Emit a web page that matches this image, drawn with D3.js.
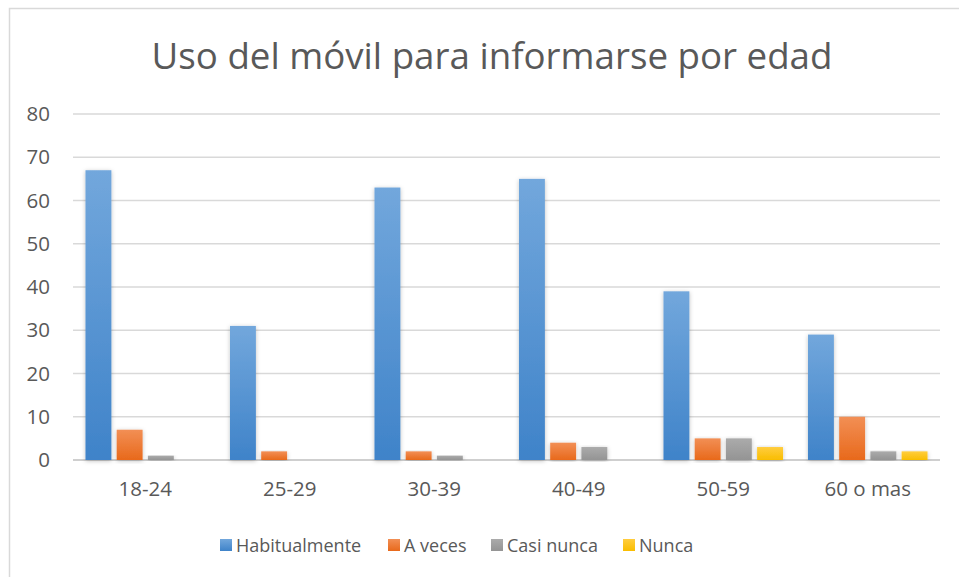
<!DOCTYPE html>
<html>
<head>
<meta charset="utf-8">
<script src="https://cdn.jsdelivr.net/npm/d3@7"></script>
<style>
  body { margin: 0; background: #fff; }
  text { font-family: "Open Sans", "Noto Sans", sans-serif; fill: #595959; }
</style>
</head>
<body>
<div id="chart"></div>
<script>
// categories and series
const ages = ['18-24', '25-29', '30-39', '40-49', '50-59', '60 o mas'];
const seriesNames = ['Habitualmente', 'A veces', 'Casi nunca', 'Nunca'];
const habitualmente = [67, 31, 63, 65, 39, 29];
const aVeces = [7, 2, 2, 4, 5, 10];
const casiNunca = [1, 0, 1, 3, 5, 2];
const nunca = [0, 0, 0, 0, 3, 2];
const yTicks = [0, 10, 20, 30, 40, 50, 60, 70, 80];

const allSeries = [habitualmente, aVeces, casiNunca, nunca];
const colors = [
    ['#72a7dc', '#3f83c9'],
    ['#f28f55', '#e8691b'],
    ['#ababab', '#949494'],
    ['#ffcd3f', '#f9bd00']
];

const W = 959, H = 577;
const margin = {top: 114, right: 19, bottom: 117, left: 73};

const svg = d3.select('#chart').append('svg')
    .attr('width', W)
    .attr('height', H);

// gradients + shadow
const defs = svg.append('defs');
colors.forEach((c, i) => {
    let g = defs.append('linearGradient')
        .attr('id', 'grad' + i)
        .attr('x1', 0).attr('y1', 0).attr('x2', 0).attr('y2', 1);
    g.append('stop').attr('offset', '0%').attr('stop-color', c[0]);
    g.append('stop').attr('offset', '100%').attr('stop-color', c[1]);
});
defs.append('filter').attr('id', 'shadow')
    .attr('x', '-30%').attr('y', '-10%').attr('width', '160%').attr('height', '120%')
    .append('feDropShadow')
    .attr('dx', 0).attr('dy', 1).attr('stdDeviation', 2)
    .attr('flood-color', '#000').attr('flood-opacity', 0.25);

// outer frame (left and top edges only visible)
svg.append('path')
    .attr('d', `M9.5,${H} V8.5 H${W}`)
    .attr('fill', 'none')
    .attr('stroke', '#d9d9d9')
    .attr('stroke-width', 1.5);

const x0 = d3.scaleBand()
    .domain(ages)
    .range([margin.left, W - margin.right])
    .paddingInner(0)
    .paddingOuter(0);

const x1 = d3.scaleBand()
    .domain(d3.range(seriesNames.length))
    .range([0, x0.bandwidth()])
    .paddingInner(0.17)
    .paddingOuter(0.4);

const y = d3.scaleLinear()
    .domain([0, 80])
    .range([H - margin.bottom, margin.top]);

// gridlines
svg.append('g')
    .selectAll('line')
    .data(yTicks)
    .join('line')
    .attr('x1', margin.left)
    .attr('x2', W - margin.right)
    .attr('y1', d => y(d))
    .attr('y2', d => y(d))
    .attr('stroke', d => d === 0 ? '#cfcfcf' : '#d9d9d9')
    .attr('stroke-width', d => d === 0 ? 2 : 1.3);

// y axis labels
let yAxis = d3.axisLeft(y).tickValues(yTicks).tickSize(0).tickPadding(0);
let gy = svg.append('g')
    .attr('transform', `translate(${margin.left - 23},0)`)
    .call(yAxis);
gy.select('.domain').remove();
gy.selectAll('text')
    .style('font-size', '20.5px')
    .attr('fill', '#595959')
    .attr('text-anchor', 'end');

// x axis labels
let xAxis = d3.axisBottom(x0).tickSize(0).tickPadding(0);
let gx = svg.append('g')
    .attr('transform', `translate(0,${y(0) + 21})`)
    .call(xAxis);
gx.select('.domain').remove();
gx.selectAll('text')
    .style('font-size', '20.5px')
    .attr('fill', '#595959');

// bars
const groups = svg.append('g')
    .selectAll('g')
    .data(ages)
    .join('g')
    .attr('transform', d => `translate(${x0(d)},0)`);

groups.selectAll('rect')
    .data((d, i) => allSeries.map((s, k) => ({key: k, value: s[i]})))
    .join('rect')
    .filter(d => d.value > 0)
    .attr('x', d => x1(d.key))
    .attr('y', d => y(d.value))
    .attr('width', x1.bandwidth())
    .attr('height', d => y(0) - y(d.value))
    .attr('fill', d => `url(#grad${d.key})`)
    .attr('filter', 'url(#shadow)');

// title
svg.append('text')
    .attr('x', (W + 9) / 2 + 8)
    .attr('y', 69)
    .attr('text-anchor', 'middle')
    .style('font-size', '36.7px')
    .text('Uso del móvil para informarse por edad');

// legend
const legendX = [220, 388, 491, 623];
const legend = svg.append('g')
    .selectAll('g')
    .data(seriesNames)
    .join('g')
    .attr('transform', (d, i) => `translate(${legendX[i]},545)`);
legend.append('rect')
    .attr('x', 0).attr('y', -6)
    .attr('width', 12).attr('height', 12)
    .attr('fill', (d, i) => `url(#grad${i})`);
legend.append('text')
    .attr('x', 16)
    .attr('y', 7)
    .style('font-size', '18px')
    .text(d => d);
</script>
</body>
</html>
